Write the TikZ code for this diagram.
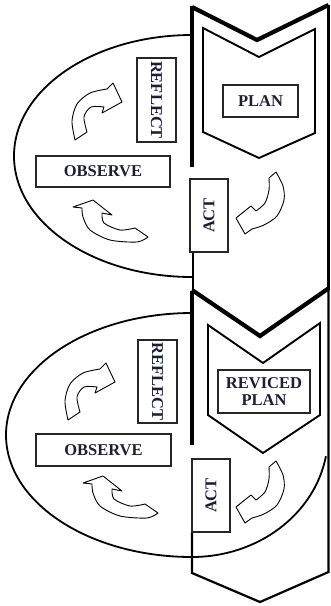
\documentclass[tikz,border=0pt]{standalone}
\usepackage{fontspec}
\setmainfont{Liberation Serif}
\definecolor{ink}{HTML}{1C1F33}
\tikzset{
  % curved block arrow bending up and to the right
  pics/turnup/.style={code={
    \draw[bent] plot[smooth] coordinates {(75,140) (72,121) (77,104) (90,93) (107,89)}
      -- (113,83) -- (122,102) -- (102,113)
      -- plot[smooth] coordinates {(104,107) (91,107) (84,117) (87,132)} -- cycle;}},
  % curved block arrow sweeping left and up
  pics/turnback/.style={code={
    \draw[bent] plot[smooth] coordinates {(135,228) (120,230) (104,223) (102,213)}
      -- (112,215) -- (93,200) -- (73,207)
      -- plot[smooth] coordinates {(82,208) (83,217) (90,230) (110,240) (137,242) (148,237)} -- cycle;}},
  % curved block arrow dropping down and to the left
  pics/turndown/.style={code={
    \draw[bent] plot[smooth] coordinates {(269,178) (269,190) (265,203) (256,211)}
      -- (251,206) -- (236,218) -- (245,234)
      -- plot[smooth] coordinates {(252,229) (264,225) (277,216) (284,200) (283,186) (276,172)} -- cycle;}}
}
\begin{document}
\begin{tikzpicture}[x=1pt,y=-1pt,
  vtop/.style={line width=4.2pt, line join=miter},
  bandedge/.style={line width=3.2pt},
  thinedge/.style={line width=2.2pt, line join=miter},
  oval/.style={line width=1.8pt},
  innerchev/.style={line width=1.9pt, line join=miter},
  tag/.style={draw=black!85, line width=1.1pt, fill=white, inner sep=0pt,
    font=\fontsize{16.5}{16.5}\selectfont\bfseries, text=ink, align=center},
  bent/.style={line width=0.9pt, line join=round, fill=white}]
\useasboundingbox (0,0) rectangle (331,606);

% ---------- first cycle ----------
\draw[oval] (192,35) arc[start angle=270, end angle=90, x radius=178, y radius=121];
\draw[vtop] (192,7) -- (257,40) -- (328.5,5);
\draw[bandedge] (192,5.5) -- (192,167);
\draw[thinedge] (328.5,5) -- (328.5,290);
\draw[thinedge] (193,252) -- (193,290);
\draw[innerchev] (203,28) -- (259,57) -- (315,29) -- (315,133) -- (259,158) -- (203,132) -- cycle;

\node[tag, minimum width=75pt, minimum height=32pt] (plan) at (260.5,101) {PLAN};
\node[tag, rotate=-90, minimum width=84pt, minimum height=39pt] (reflect1) at (156.5,100) {REFLECT};
\node[tag, minimum width=134pt, minimum height=31pt] (observe1) at (103,171.5) {OBSERVE};
\node[tag, rotate=90, minimum width=73pt, minimum height=38pt] (act1) at (209,215.5) {ACT};

\pic at (0,0) {turnup};
\pic at (0,0) {turnback};
\pic at (0,0) {turndown};

% ---------- second cycle ----------
\draw[oval] (192,313) arc[start angle=270, end angle=90, x radius=186, y radius=122]
  arc[start angle=90, end angle=10, x radius=136, y radius=122];
\draw[vtop] (192,290) -- (260,336) -- (329,288);
\draw[bandedge] (192,291) -- (192,445);
\draw[thinedge] (328.5,288) -- (328.5,572) -- (260,602) -- (192,573) -- (192,532);
\draw[innerchev] (208,325) -- (263,363) -- (320,323) -- (320,415) -- (263,453) -- (208,415) -- cycle;

\node[tag, minimum width=92pt, minimum height=43pt] (revplan) at (264,391.5) {REVICED\\PLAN};
\node[tag, rotate=-90, minimum width=83pt, minimum height=39pt] (reflect2) at (157.5,381.5) {REFLECT};
\node[tag, minimum width=135pt, minimum height=32pt] (observe2) at (103.5,450) {OBSERVE};
\node[tag, rotate=90, minimum width=73pt, minimum height=38pt] (act2) at (211,495.5) {ACT};

\pic at (-7,280) {turnup};
\pic at (10,276) {turnback};
\pic at (0,289) {turndown};
\end{tikzpicture}
\end{document}
